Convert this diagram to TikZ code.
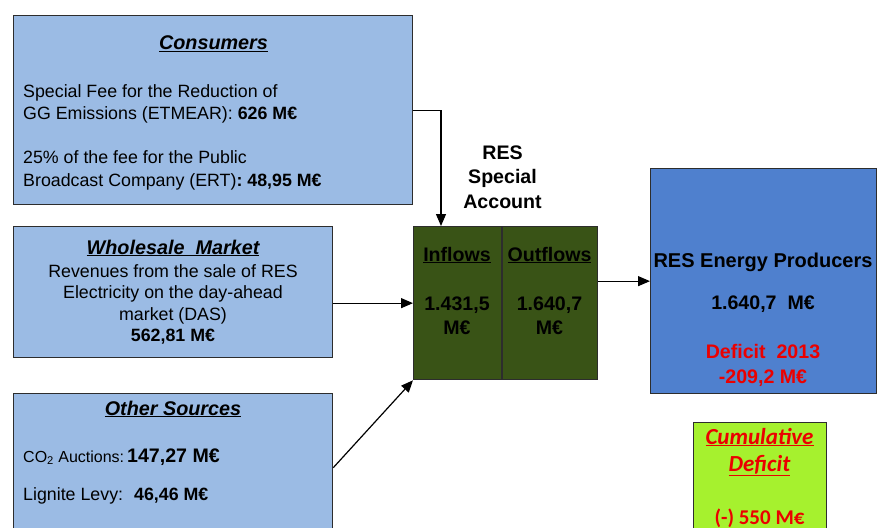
\documentclass[tikz,border=0pt]{standalone}
\usepackage{fontspec}
\setmainfont{Liberation Sans}
\newfontfamily\carlitofont{Carlito}
\usetikzlibrary{arrows.meta}
\definecolor{lightbox}{RGB}{155,187,228}
\definecolor{edgecol}{RGB}{45,45,45}
\definecolor{accgreen}{RGB}{57,83,22}
\definecolor{prodblue}{RGB}{79,128,206}
\definecolor{limegreen}{RGB}{166,241,46}
\definecolor{defred}{RGB}{235,0,0}
\newcommand{\fsBody}{\fontsize{17.8}{21.5}\selectfont}
\newcommand{\fsTitle}{\fontsize{19.8}{23}\selectfont}
\newcommand{\fsBig}{\fontsize{19.6}{24}\selectfont}
\begin{document}
\begin{tikzpicture}[x=1pt,y=-1pt,
  box/.style={draw=edgecol, line width=1.3pt, inner sep=0pt, anchor=north west},
  txt/.style={inner sep=0pt, anchor=base},
  txtl/.style={inner sep=0pt, anchor=base west},
  flow/.style={line width=1.2pt, -{Triangle[length=12pt,width=10pt]}}]
\clip (0,0) rectangle (880,527);
\fill[white] (0,0) rectangle (880,527);

% boxes
\node[box, fill=lightbox, minimum width=399pt, minimum height=189pt] (cons) at (13,15) {};
\node[box, fill=lightbox, minimum width=319pt, minimum height=131pt] (whol) at (13,226) {};
\node[box, fill=lightbox, minimum width=319pt, minimum height=148pt] (oth) at (13,393) {};
\node[box, fill=accgreen, minimum width=88pt, minimum height=153pt] (inf) at (413,226) {};
\node[box, fill=accgreen, minimum width=95pt, minimum height=153pt] (outf) at (502,226) {};
\node[box, fill=prodblue, minimum width=226pt, minimum height=225pt] (prod) at (650,168) {};
\node[box, fill=limegreen, minimum width=133pt, minimum height=130pt] (cum) at (693,422) {};

% Consumers text
\node[txt] (consT) at (213.5,50) {\fsTitle\textbf{\textit{\underline{Consumers}}}};
\node[txtl] (c1) at (23,97) {\fsBody Special Fee for the Reduction of};
\node[txtl] (c2) at (23,119) {\fsBody GG Emissions (ETMEAR): \textbf{626 M€}};
\node[txtl] (c3) at (23,163) {\fsBody 25\% of the fee for the Public};
\node[txtl] (c4) at (23,186) {\fsBody Broadcast Company (ERT)\textbf{: 48,95 M€}};

% Wholesale text
\node[txt] (wholT) at (173,254) {\fsTitle\textbf{\textit{\underline{Wholesale\ \ Market}}}};
\node[txt] (w1) at (173,277) {\fsBody Revenues from the sale of RES};
\node[txt] (w2) at (173,298) {\fsBody Electricity on the day-ahead};
\node[txt] (w3) at (173,320) {\fsBody market (DAS)};
\node[txt] (w4) at (173,341) {\fsBody\textbf{562,81 M€}};

% Other sources text
\node[txt] (othT) at (173,415) {\fsTitle\textbf{\textit{\underline{Other Sources}}}};
\node[txtl] (o1) at (23,462) {\fontsize{16}{19}\selectfont CO\textsubscript{2} Auctions:\hspace{3pt}{\fsBig\textbf{147,27 M€}}};
\node[txtl] (o2) at (23,500) {\fsBody Lignite Levy:\hspace{11pt}\textbf{46,46 M€}};

% RES Special Account
\node[txt] (acc1) at (502.5,159) {\fsBig\textbf{RES}};
\node[txt] (acc2) at (502.5,183) {\fsBig\textbf{Special}};
\node[txt] (acc3) at (502.5,208) {\fsBig\textbf{Account}};

% Inflows / Outflows
\node[txt] (infT) at (457,261) {\fsBig\textbf{\underline{Inflows}}};
\node[txt] (inf1) at (457,310) {\fsBig\textbf{1.431,5}};
\node[txt] (inf2) at (457,334) {\fsBig\textbf{M€}};
\node[txt] (outT) at (549.5,261) {\fsBig\textbf{\underline{Outflows}}};
\node[txt] (out1) at (549.5,310) {\fsBig\textbf{1.640,7}};
\node[txt] (out2) at (549.5,334) {\fsBig\textbf{M€}};

% Producers
\node[txt] (p1) at (763,267) {\fontsize{20}{24}\selectfont\textbf{RES Energy Producers}};
\node[txt] (p2) at (763,309) {\fsBig\textbf{1.640,7\ \ M€}};
\node[txt, text=defred] (p3) at (763,358) {\fsBig\textbf{Deficit\ \ 2013}};
\node[txt, text=defred] (p4) at (763,383) {\fsBig\textbf{-209,2 M€}};

% Cumulative deficit
\node[txt, text=defred] (cu1) at (759.5,444) {\carlitofont\fontsize{23}{27}\selectfont\textbf{\textit{\underline{Cumulative}}}};
\node[txt, text=defred] (cu2) at (759.5,471) {\carlitofont\fontsize{23}{27}\selectfont\textbf{\textit{\underline{Deficit}}}};
\node[txt, text=defred] (cu3) at (759.5,524) {\carlitofont\fontsize{21}{25}\selectfont\textbf{(-) 550 M€}};

% connectors
\draw[flow] (cons.east) -| ([xshift=28pt]inf.north west);
\draw[flow] (whol.east |- inf.west) -- (inf.west);
\draw[flow] (oth.east) -- (inf.south west);
\draw[flow] (outf.east |- prod.west) -- (prod.west);
\end{tikzpicture}
\end{document}
